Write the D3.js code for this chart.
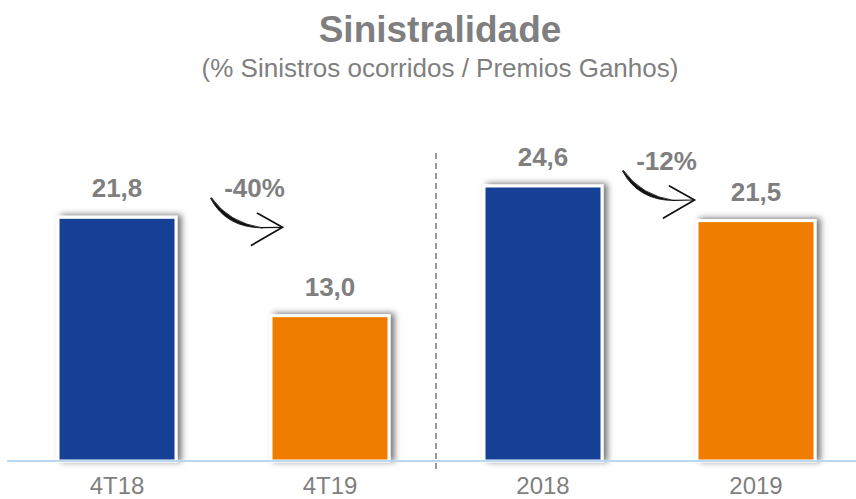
<!DOCTYPE html>
<html><head><meta charset="utf-8">
<script src="https://cdn.jsdelivr.net/npm/d3@7"></script>
<style>body{margin:0;background:#fff}svg{display:block}</style>
</head><body>
<svg id="c" width="856" height="499"></svg>
<script>
const categories = ["4T18","4T19","2018","2019"];
const values = [21.8, 13.0, 24.6, 21.5];
const valueLabels = ["21,8","13,0","24,6","21,5"];
const barColors = ["#173f95","#f07d00","#173f95","#f07d00"];
const changeFrom = ["4T18","2018"];
const changeTo = ["4T19","2019"];
const changeLabels = ["-40%","-12%"];

const svg = d3.select("#c");
const FONT = "Liberation Sans, Arial, sans-serif";
const base = 461;
const x = d3.scalePoint().domain(categories).range([10.5, 862.5]).padding(0.5);
const y = d3.scaleLinear().domain([0, 24.6]).range([base, 186]);
const bw = 118;

const defs = svg.append("defs");
const f = defs.append("filter").attr("id","sh").attr("x","-20%").attr("y","-20%").attr("width","140%").attr("height","140%");
f.append("feDropShadow").attr("dx",4).attr("dy",-1).attr("stdDeviation",3).attr("flood-color","#000").attr("flood-opacity",0.55);

svg.append("text").attr("x",440).attr("y",42).attr("text-anchor","middle")
  .attr("font-family",FONT).attr("font-weight","bold").attr("font-size",37)
  .attr("fill","#7f7f7f").text("Sinistralidade");
svg.append("text").attr("x",440).attr("y",77).attr("text-anchor","middle")
  .attr("font-family",FONT).attr("font-size",26)
  .attr("fill","#7f7f7f").text("(% Sinistros ocorridos / Premios Ganhos)");

// bars
svg.append("g").selectAll("rect").data(categories).join("rect")
  .attr("x", d => x(d) - bw/2)
  .attr("y", (d,i) => y(values[i]))
  .attr("width", bw)
  .attr("height", (d,i) => base - y(values[i]))
  .attr("fill", (d,i) => barColors[i])
  .attr("stroke","#fff").attr("stroke-width",3)
  .attr("filter","url(#sh)");

// axis line
svg.append("line").attr("x1",7).attr("x2",856).attr("y1",base).attr("y2",base)
  .attr("stroke","#bcd8f0").attr("stroke-width",2);

// dashed separator
const sepX = (x("4T19") + x("2018"))/2 - 0.5;
svg.append("line").attr("x1",sepX).attr("x2",sepX).attr("y1",153).attr("y2",471)
  .attr("stroke","#808080").attr("stroke-width",1.6).attr("stroke-dasharray","6,4");

// value labels
svg.selectAll("text.val").data(categories).join("text").attr("class","val")
  .attr("x", d => x(d))
  .attr("y", (d,i) => y(values[i]) - 20)
  .attr("text-anchor","middle")
  .attr("font-family",FONT).attr("font-weight","bold").attr("font-size",26)
  .attr("fill","#7f7f7f").text((d,i) => valueLabels[i]);

// category labels
svg.selectAll("text.cat").data(categories).join("text").attr("class","cat")
  .attr("x", d => x(d)).attr("y", 494)
  .attr("text-anchor","middle")
  .attr("font-family",FONT).attr("font-size",24)
  .attr("fill","#7f7f7f").text(d => d);

// change arrows
const arrowDx = [31, 17];
const arrowDy = [0, 4];
changeLabels.forEach((lab, k) => {
  const i0 = categories.indexOf(changeFrom[k]);
  const mid = (x(changeFrom[k]) + bw/2 + x(changeTo[k]) - bw/2) / 2;
  const cx = mid + arrowDx[k];
  const by = y(values[i0]) - 20 + arrowDy[k];
  const S = [cx-44, by+1], C = [cx-27, by+28], E = [cx+8, by+30], T = [cx+28, by+30];
  svg.append("path")
    .attr("d", `M${S[0]},${S[1]} Q${C[0]-1.5},${C[1]+2.5} ${E[0]},${E[1]+0.6} Q${C[0]+1.5},${C[1]-2.5} ${S[0]+1},${S[1]-0.5} Z`)
    .attr("fill","#111").attr("stroke","#111").attr("stroke-width",0.8);
  svg.append("path")
    .attr("d", `M${E[0]-2},${E[1]+0.3} L${T[0]},${T[1]}`)
    .attr("fill","none").attr("stroke","#111").attr("stroke-width",1.2);
  svg.append("path")
    .attr("d", `M${cx+3},${by+16} L${T[0]},${T[1]} L${cx-3},${by+48}`)
    .attr("fill","none").attr("stroke","#111").attr("stroke-width",1.7).attr("stroke-linecap","round").attr("stroke-linejoin","miter");
  svg.append("text").attr("x", cx).attr("y", by)
    .attr("text-anchor","middle")
    .attr("font-family",FONT).attr("font-weight","bold").attr("font-size",26)
    .attr("fill","#7f7f7f").text(lab);
});
</script>
</body></html>
